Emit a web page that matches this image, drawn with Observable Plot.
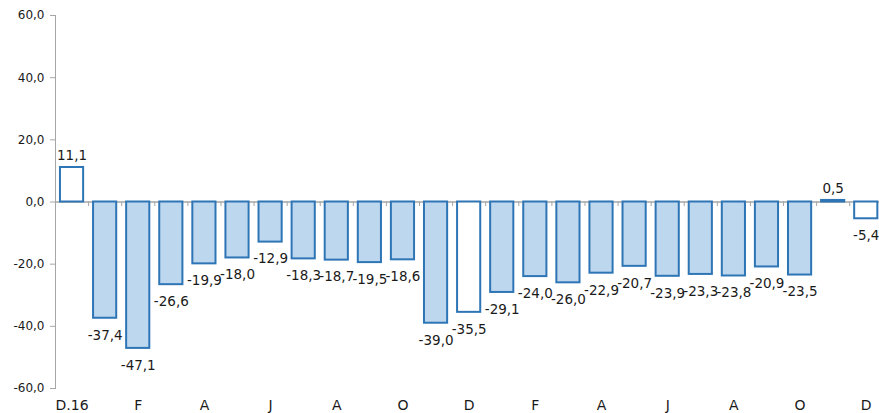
<!DOCTYPE html>
<html><head><meta charset="utf-8">
<script src="https://cdn.jsdelivr.net/npm/d3@7"></script>
<script src="https://cdn.jsdelivr.net/npm/@observablehq/plot@0.6"></script>
<style>body{margin:0;background:#fff} svg{display:block}</style>
</head><body><div id="chart"></div>
<script>
const months = ["D.16","J","F","M","A","M","J","J","A","S","O","N","D","J","F","M","A","M","J","J","A","S","O","N","D"];
const values = [11.1,-37.4,-47.1,-26.6,-19.9,-18.0,-12.9,-18.3,-18.7,-19.5,-18.6,-39.0,-35.5,-29.1,-24.0,-26.0,-22.9,-20.7,-23.9,-23.3,-23.8,-20.9,-23.5,0.5,-5.4];
const yTicks = [-60,-40,-20,0,20,40,60];

const data = values.map((v, i) => ({i, m: months[i], v}));
const fmt = v => v.toFixed(1).replace(".", ",");
const gray = "#a6a6a6";
const step = 827.3 / 25;

const chart = Plot.plot({
  width: 879,
  height: 413,
  marginLeft: 55,
  marginRight: 0,
  marginTop: 15,
  marginBottom: 25,
  style: {fontFamily: "DejaVu Sans, sans-serif", color: "#1a1a1a", background: "#fff"},
  x: {type: "band", domain: data.map(d => d.i), range: [55, 882.3], paddingInner: 0.3, paddingOuter: 0.15, align: 0.5, round: false, axis: null},
  y: {domain: [-60, 60], axis: null, label: null},
  marks: [
    Plot.frame({anchor: "left", stroke: gray}),
    Plot.ruleY([0], {stroke: gray, strokeWidth: 1.5}),
    Plot.ruleX(data, {x: "i", y1: 0, y2: -60, insetBottom: 182, dx: step / 2, stroke: gray}),
    Plot.barY(data, {x: "i", y: "v", fill: d => d.m.startsWith("D") ? "#ffffff" : "#bdd7ee", stroke: "#2e75b6", strokeWidth: 2}),
    Plot.text(data.filter(d => d.v >= 0), {x: "i", y: "v", text: d => fmt(d.v), dy: -12, fontSize: 13.5, fill: "#1a1a1a"}),
    Plot.text(data.filter(d => d.v < 0), {x: "i", y: "v", text: d => fmt(d.v), dy: 17, fontSize: 13.5, fill: "#1a1a1a"}),
    Plot.axisY({ticks: yTicks, tickFormat: fmt, tickSize: 5, tickPadding: 6, stroke: gray, fontSize: 12, fill: "#1a1a1a", label: null}),
    Plot.axisX({tickSize: 0, tickPadding: 12, fontSize: 14, fill: "#1a1a1a", label: null, tickFormat: i => i % 2 === 0 ? months[i] : ""})
  ]
});
document.getElementById("chart").appendChild(chart);
</script></body></html>
